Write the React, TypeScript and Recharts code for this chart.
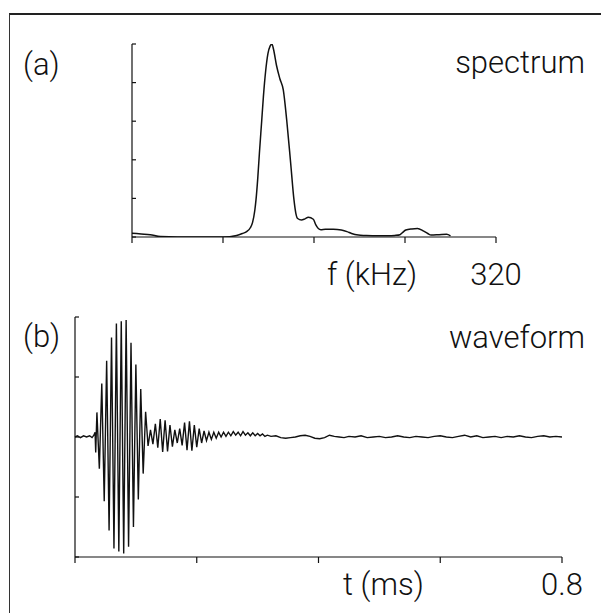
import React from 'react';
import { LineChart, Line, XAxis, YAxis } from 'recharts';

// ---------- (a) spectrum ----------
const specFreq = [
  0, 8, 16, 25, 40, 60, 80, 92, 97, 100.8, 104, 106, 108, 109, 110.5, 112, 114, 115.5, 117.5, 119.5,
  121.5, 123, 124.5, 127, 130, 133, 136, 139.5, 142.4, 144, 145.6, 149, 152, 155, 159.4, 161.5, 163.8,
  166, 170, 177, 184, 189, 193, 199, 205, 215, 225, 231, 235.6, 238, 240.7, 246, 251, 256, 260, 263,
  270, 276.6, 280,
];
const specAmp = [
  0.1, 0.08, 0.06, 0.01, 0.0, 0.0, 0.0, 0.04, 0.09, 0.14, 0.24, 0.38, 0.7, 0.96, 1.5, 2.17, 3.0, 3.63, 4.3, 4.75,
  4.95, 5.0, 4.85, 4.45, 4.1, 3.81, 3.03, 1.91, 0.96, 0.62, 0.48, 0.44, 0.47, 0.51, 0.46, 0.32, 0.22,
  0.19, 0.2, 0.2, 0.18, 0.14, 0.09, 0.05, 0.04, 0.03, 0.03, 0.04, 0.06, 0.12, 0.18, 0.21, 0.22, 0.16, 0.09, 0.05,
  0.06, 0.07, 0.03,
];
const specTicksX = [0, 80, 160, 240, 320];
const specTicksY = [0, 1, 2, 3, 4, 5];

// ---------- (b) waveform ----------
const waveT = [
  0, 0.004, 0.009, 0.014, 0.019, 0.024, 0.028, 0.031, 0.033,
  0.034, 0.036, 0.04, 0.044, 0.048, 0.052, 0.056, 0.06, 0.064, 0.068, 0.072, 0.076, 0.08, 0.084,
  0.088, 0.092, 0.096, 0.1, 0.104, 0.108, 0.112, 0.116, 0.12,
  0.124, 0.128, 0.132, 0.136, 0.14, 0.144, 0.148, 0.152, 0.156, 0.16, 0.164, 0.168, 0.172, 0.176,
  0.18, 0.184, 0.188, 0.192, 0.196, 0.2, 0.204, 0.208, 0.212, 0.216, 0.22, 0.224, 0.228, 0.232,
  0.236, 0.24, 0.244, 0.248, 0.252, 0.256, 0.26, 0.264, 0.268, 0.272, 0.276, 0.28, 0.284, 0.288,
  0.292, 0.296, 0.3, 0.304, 0.308, 0.312, 0.316,
  0.322, 0.33, 0.338, 0.346, 0.354, 0.362, 0.37, 0.378, 0.386, 0.394, 0.402, 0.41, 0.418, 0.426,
  0.434, 0.442, 0.45, 0.46, 0.47, 0.48, 0.49, 0.5, 0.51, 0.52, 0.53, 0.54, 0.55, 0.56, 0.57, 0.58,
  0.59, 0.6, 0.61, 0.62, 0.63, 0.64, 0.65, 0.66, 0.67, 0.68, 0.69, 0.7, 0.71, 0.72, 0.73, 0.74,
  0.75, 0.76, 0.77, 0.78, 0.79, 0.8,
];
const waveV = [
  0.0, 0.02, -0.01, 0.02, 0.0, 0.02, -0.01, 0.03, 0.08,
  -0.26, 0.41, -0.53, 0.89, -1.07, 1.27, -1.56, 1.66, -1.86, 1.89, -1.91, 1.93, -1.94, 1.95,
  -1.83, 1.57, -1.5, 1.21, -1.04, 0.8, -0.61, 0.42, -0.15,
  0.12, -0.12, 0.22, -0.18, 0.3, -0.25, 0.28, -0.24, 0.2, -0.16, 0.12, -0.1, 0.14, -0.14,
  0.24, -0.22, 0.26, -0.23, 0.2, -0.17, 0.14, -0.1, 0.1, -0.06, 0.08, -0.04, 0.08, -0.02,
  0.08, 0.0, 0.08, 0.01, 0.08, 0.02, 0.09, 0.03, 0.08, 0.02, 0.09, 0.03, 0.07, 0.02,
  0.07, 0.02, 0.06, 0.02, 0.05, 0.01, 0.03,
  0.01, 0.02, -0.01, -0.02, -0.01, 0.0, 0.02, 0.03, 0.01, -0.02, -0.03, -0.01, 0.03, 0.01,
  0.0, -0.01, 0.01, 0.0, 0.02, -0.01, 0.0, 0.01, -0.01, 0.0, 0.02, 0.0, -0.01, 0.01, 0.0, -0.01,
  0.01, 0.02, 0.0, -0.01, 0.01, 0.03, 0.0, 0.02, -0.01, 0.0, 0.01, -0.01, 0.01, 0.0, 0.02, 0.0,
  -0.01, 0.01, 0.02, 0.0, 0.01, 0.0,
];
const waveTicksX = [0, 0.2, 0.4, 0.6, 0.8];
const waveTicksY = [-2, -1, 0, 1, 2];

const specData = specFreq.map((f, i) => ({ f, a: specAmp[i] }));
const waveData = waveT.map((t, i) => ({ t, v: waveV[i] }));

const FONT = "Roboto, 'DejaVu Sans', sans-serif";
const WEIGHT = 300;
const INK = '#111';

const EndTick = (props: any) => {
  const { x, y, payload, last, text, dy } = props;
  if (payload.value !== last) return <g />;
  return (
    <text x={x} y={y + dy} textAnchor="middle" fontFamily={FONT} fontWeight={WEIGHT} fontSize={31} fill={INK}>
      {text}
    </text>
  );
};

const NoLabel = () => <g />;

export default function App() {
  return (
    <div style={{ position: 'relative', width: 601, height: 605, background: '#fff' }}>
      <div
        style={{
          position: 'absolute',
          left: 1,
          top: 5,
          width: 600,
          height: 600,
          borderTop: '2px solid #222',
          borderLeft: '1px solid #333',
          boxSizing: 'border-box',
        }}
      />
      <div style={{ position: 'absolute', left: 0, top: 0 }}>
        <LineChart width={601} height={290} data={specData} margin={{ top: 36, left: 124, right: 113, bottom: 31 }}>
          <XAxis
            dataKey="f"
            type="number"
            domain={[0, 320]}
            ticks={specTicksX}
            height={30}
            stroke={INK}
            strokeWidth={1.2}
            tickSize={6}
            tickLine={{ stroke: INK }}
            tick={(p: any) => <EndTick {...p} last={320} text="320" dy={40} />}
            interval={0}
          />
          <YAxis
            type="number"
            domain={[0, 5]}
            ticks={specTicksY}
            mirror
            width={10}
            stroke={INK}
            strokeWidth={1.2}
            tickSize={4}
            tickLine={{ stroke: INK }}
            tick={NoLabel}
            interval={0}
            allowDataOverflow
          />
          <Line dataKey="a" type="monotone" stroke={INK} strokeWidth={1.5} dot={false} isAnimationActive={false} />
        </LineChart>
      </div>
      <div style={{ position: 'absolute', left: 0, top: 290 }}>
        <LineChart width={601} height={315} data={waveData} margin={{ top: 19, left: 67, right: 47, bottom: 26 }}>
          <XAxis
            dataKey="t"
            type="number"
            domain={[0, 0.8]}
            ticks={waveTicksX}
            height={30}
            stroke={INK}
            strokeWidth={1.2}
            tickSize={6}
            tickLine={{ stroke: INK }}
            tick={(p: any) => <EndTick {...p} last={0.8} text="0.8" dy={30} />}
            interval={0}
          />
          <YAxis
            type="number"
            domain={[-2, 2]}
            ticks={waveTicksY}
            mirror
            width={10}
            stroke={INK}
            strokeWidth={1.2}
            tickSize={4}
            tickLine={{ stroke: INK }}
            tick={NoLabel}
            interval={0}
            allowDataOverflow
          />
          <Line dataKey="v" type="linear" stroke={INK} strokeWidth={1.4} dot={false} isAnimationActive={false} />
        </LineChart>
      </div>
      <svg
        width={601}
        height={605}
        style={{ position: 'absolute', left: 0, top: 0, pointerEvents: 'none' }}
      >
        <g fontFamily={FONT} fontWeight={WEIGHT} fontSize={31} fill={INK}>
          <text x={15} y={67}>(a)</text>
          <text x={577} y={65} textAnchor="end">spectrum</text>
          <text x={319} y={277}>f (kHz)</text>
          <text x={15} y={339}>(b)</text>
          <text x={577} y={340} textAnchor="end">waveform</text>
          <text x={335} y={587}>t (ms)</text>
        </g>
      </svg>
    </div>
  );
}
